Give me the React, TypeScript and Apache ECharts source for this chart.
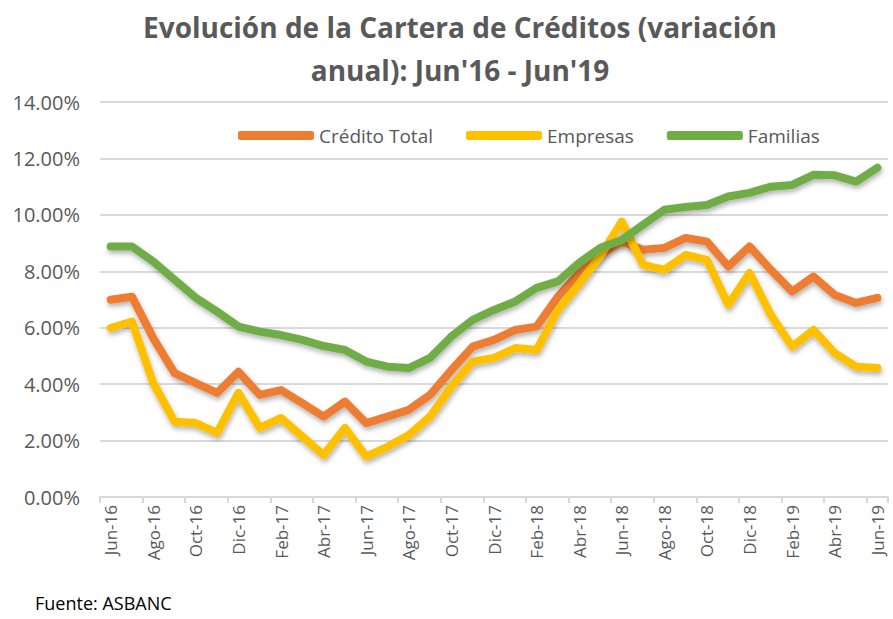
import React, { useEffect, useRef } from "react";
import * as echarts from "echarts";

const categories = [
  "Jun-16", "Jul-16", "Ago-16", "Sep-16", "Oct-16", "Nov-16", "Dic-16",
  "Ene-17", "Feb-17", "Mar-17", "Abr-17", "May-17", "Jun-17", "Jul-17",
  "Ago-17", "Sep-17", "Oct-17", "Nov-17", "Dic-17", "Ene-18", "Feb-18",
  "Mar-18", "Abr-18", "May-18", "Jun-18", "Jul-18", "Ago-18", "Sep-18",
  "Oct-18", "Nov-18", "Dic-18", "Ene-19", "Feb-19", "Mar-19", "Abr-19",
  "May-19", "Jun-19",
];

const creditoTotal = [
  6.99, 7.1, 5.63, 4.39, 4.04, 3.69, 4.44, 3.62, 3.79, 3.33, 2.85, 3.38,
  2.62, 2.85, 3.09, 3.62, 4.5, 5.33, 5.57, 5.92, 6.04, 7.1, 7.94, 8.6,
  9.05, 8.76, 8.83, 9.18, 9.05, 8.17, 8.88, 8.05, 7.28, 7.81, 7.16, 6.88,
  7.06,
];

const empresas = [
  5.99, 6.22, 4.04, 2.67, 2.62, 2.27, 3.69, 2.45, 2.8, 2.14, 1.49, 2.45,
  1.43, 1.78, 2.2, 2.85, 3.91, 4.8, 4.93, 5.28, 5.21, 6.63, 7.55, 8.55,
  9.76, 8.23, 8.05, 8.58, 8.4, 6.81, 7.94, 6.45, 5.33, 5.92, 5.1, 4.62,
  4.57,
];

const familias = [
  8.88, 8.88, 8.35, 7.7, 7.06, 6.57, 6.04, 5.86, 5.74, 5.57, 5.35, 5.21,
  4.8, 4.62, 4.57, 4.93, 5.69, 6.28, 6.63, 6.93, 7.41, 7.64, 8.3, 8.83,
  9.11, 9.65, 10.18, 10.28, 10.35, 10.65, 10.78, 11.0, 11.06, 11.42, 11.4,
  11.18, 11.67,
];

const seriesNames = ["Crédito Total", "Empresas", "Familias"];
const seriesColors = ["#ED7D31", "#FFC000", "#70AD47"];

const FONT = "'Open Sans', 'Noto Sans', sans-serif";
const GRAY = "#595959";

export default function App() {
  const ref = useRef<HTMLDivElement>(null);

  useEffect(() => {
    if (!ref.current) return;
    const chart = echarts.init(ref.current, undefined, { renderer: "svg" });
    const data = [creditoTotal, empresas, familias];
    chart.setOption({
      animation: false,
      backgroundColor: "#ffffff",
      title: {
        text: "Evolución de la Cartera de Créditos (variación\nanual): Jun'16 - Jun'19",
        left: 455,
        textAlign: "center",
        top: 0,
        textStyle: {
          fontFamily: FONT,
          fontWeight: "bold",
          fontSize: 28,
          lineHeight: 43,
          color: GRAY,
        },
      },
      legend: {
        left: 233,
        top: 121,
        icon: "roundRect",
        itemWidth: 76,
        itemHeight: 9,
        itemGap: 33,
        textStyle: { fontFamily: FONT, fontSize: 19, color: GRAY },
        data: seriesNames,
      },
      grid: { left: 100, right: 5, top: 102, bottom: 122 },
      xAxis: {
        type: "category",
        data: categories,
        boundaryGap: true,
        axisLine: { lineStyle: { color: "#d9d9d9", width: 2 } },
        axisTick: {
          show: true,
          interval: 1,
          length: 6,
          lineStyle: { color: "#d9d9d9", width: 2 },
        },
        axisLabel: {
          interval: 1,
          rotate: 90,
          margin: 8,
          fontFamily: FONT,
          fontSize: 17,
          color: GRAY,
        },
      },
      yAxis: {
        type: "value",
        min: 0,
        max: 14,
        interval: 2,
        axisLine: { show: false },
        axisTick: { show: false },
        splitLine: { lineStyle: { color: "#d9d9d9", width: 2 } },
        axisLabel: {
          margin: 20,
          fontFamily: FONT,
          fontSize: 20,
          color: GRAY,
          formatter: (v: number) => v.toFixed(2) + "%",
        },
      },
      series: seriesNames.map((name, i) => ({
        name,
        type: "line",
        data: data[i],
        showSymbol: false,
        symbol: "none",
        color: seriesColors[i],
        lineStyle: {
          width: 8,
          color: seriesColors[i],
          cap: "round",
          join: "round",
          shadowBlur: 5,
          shadowColor: "rgba(0,0,0,0.3)",
          shadowOffsetY: 3,
          shadowOffsetX: 1,
        },
      })),
      graphic: [
        {
          type: "text",
          left: 35,
          top: 594,
          style: {
            text: "Fuente: ASBANC",
            fontFamily: FONT,
            fontSize: 18,
            fill: "#000000",
          },
        },
      ],
    });
    return () => chart.dispose();
  }, []);

  return (
    <div
      ref={ref}
      style={{ position: "fixed", left: 0, top: 0, width: 893, height: 619 }}
    />
  );
}
